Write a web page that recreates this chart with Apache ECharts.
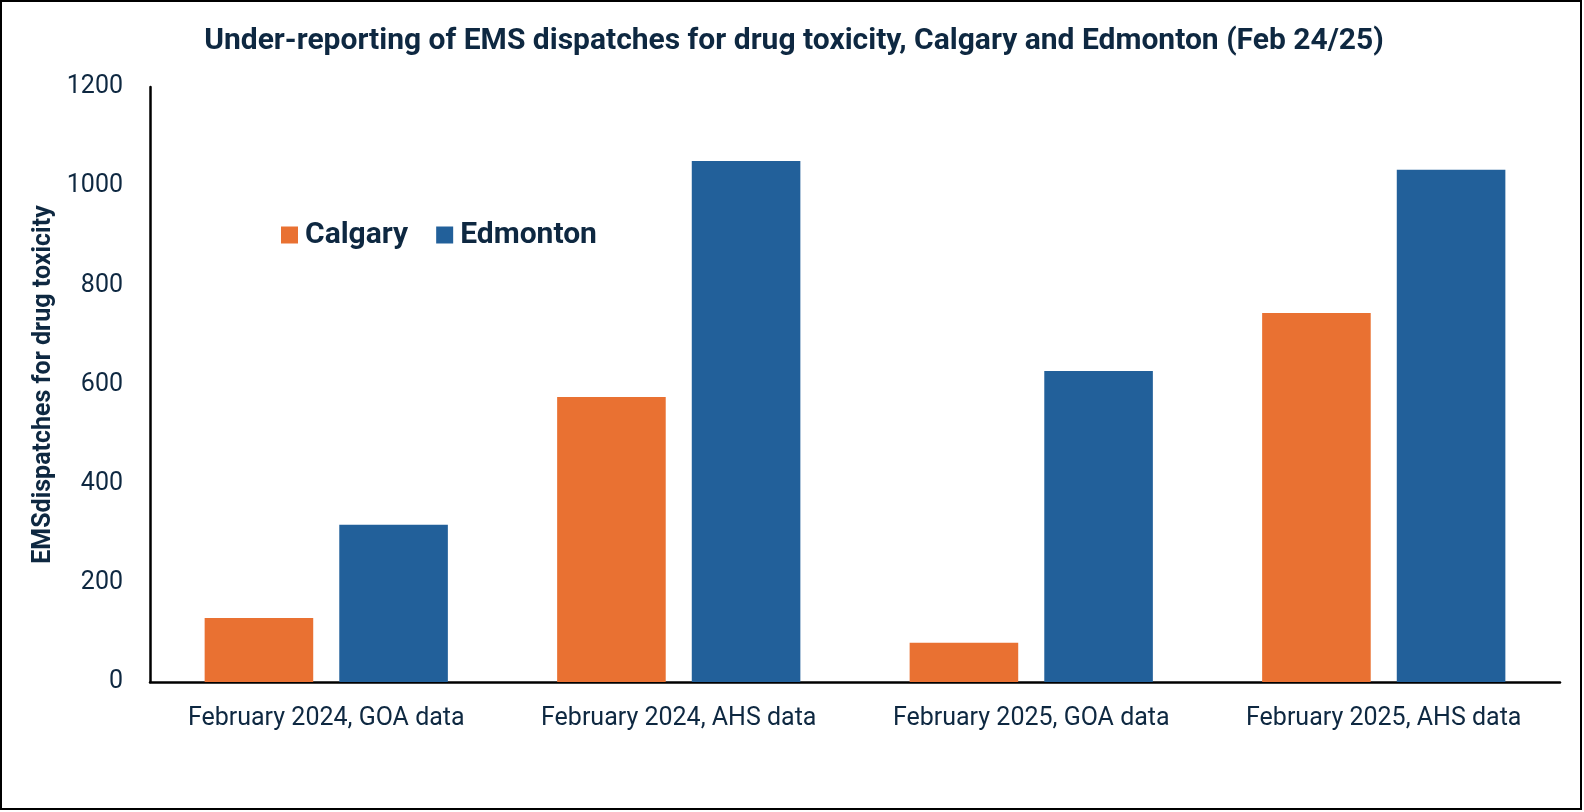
<!DOCTYPE html>
<html>
<head>
<meta charset="utf-8">
<script src="https://cdn.jsdelivr.net/npm/echarts@6/dist/echarts.min.js"></script>
<style>
html,body{margin:0;padding:0;background:#fff;}
#c{width:1584px;height:812px;}
</style>
</head>
<body>
<div id="c"></div>
<script>
const categories = ["February 2024, GOA data", "February 2024, AHS data", "February 2025, GOA data", "February 2025, AHS data"];
const seriesNames = ["Calgary", "Edmonton"];
const calgary = [129, 575, 79, 744];
const edmonton = [317, 1051, 627, 1033];
const yTicks = [0, 200, 400, 600, 800, 1000, 1200];

const textColor = '#0E2841';
const chart = echarts.init(document.getElementById('c'));
chart.setOption({
  animation: false,
  backgroundColor: '#ffffff',
  graphic: [{
    type: 'rect',
    shape: { x: 1, y: 1, width: 1580, height: 808 },
    style: { fill: 'none', stroke: '#000', lineWidth: 2 },
    silent: true
  }],
  title: {
    text: 'Under-reporting of EMS dispatches for drug toxicity, Calgary and Edmonton (Feb 24/25)',
    left: 789, textAlign: 'center', top: 21,
    textStyle: { fontFamily: 'Roboto', fontWeight: 'bold', fontSize: 30, color: textColor }
  },
  legend: {
    left: 276, top: 215,
    itemWidth: 17, itemHeight: 17, itemGap: 28,
    icon: 'rect',
    textStyle: { fontFamily: 'Roboto', fontWeight: 'bold', fontSize: 30, color: textColor, padding: [0,0,0,2] },
    data: seriesNames
  },
  grid: { left: 150, right: 24, top: 87, bottom: 130, containLabel: false },
  xAxis: {
    type: 'category',
    data: categories,
    axisLine: { lineStyle: { color: '#000', width: 2.5 } },
    axisTick: { show: false },
    axisLabel: { interval: 0, hideOverlap: false, fontFamily: 'Roboto', fontSize: 25, color: textColor, margin: 24 }
  },
  yAxis: {
    type: 'value',
    min: yTicks[0], max: yTicks[yTicks.length - 1], interval: 200,
    name: 'EMSdispatches for drug toxicity',
    nameLocation: 'middle', nameGap: 92,
    nameTextStyle: { fontFamily: 'Roboto', fontWeight: 'bold', fontSize: 25, color: textColor },
    axisLine: { show: true, lineStyle: { color: '#000', width: 2.5 } },
    axisTick: { show: false },
    splitLine: { show: false },
    axisLabel: { fontFamily: 'Roboto', fontSize: 25, color: textColor, margin: 27, formatter: v => String(v) }
  },
  series: [
    { name: seriesNames[0], type: 'bar', data: calgary, itemStyle: { color: '#E97132' }, barGap: '24%', barCategoryGap: '31%' },
    { name: seriesNames[1], type: 'bar', data: edmonton, itemStyle: { color: '#22609A' }, barGap: '24%', barCategoryGap: '31%' }
  ]
});
</script>
</body>
</html>
